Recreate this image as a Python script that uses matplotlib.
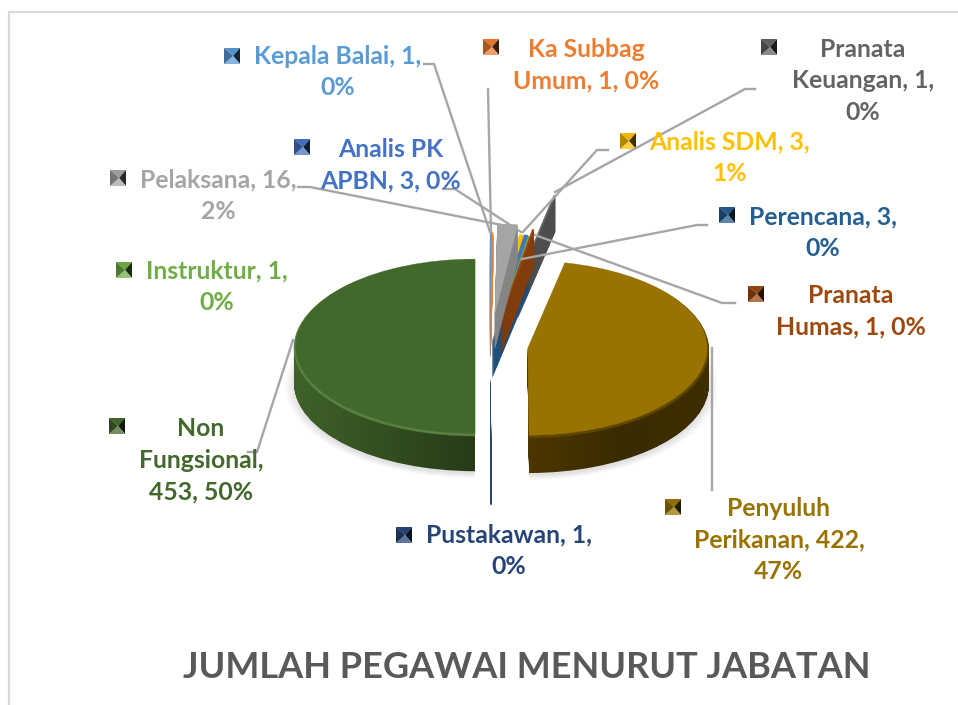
import numpy as np
from matplotlib import pyplot as plt
from matplotlib.colors import LinearSegmentedColormap, to_rgb
from matplotlib.path import Path
from matplotlib.patches import Polygon

# clockwise from 12 o'clock
names = ["Kepala Balai", "Ka Subbag Umum", "Pelaksana", "Analis SDM", "Analis PK APBN", "Instruktur",
         "Pranata Humas", "Perencana", "Pranata Keuangan", "Penyuluh Perikanan", "Pustakawan", "Non Fungsional"]
values = [1, 1, 16, 3, 3, 1, 1, 3, 1, 422, 1, 453]
colors = ["#5b9bd5", "#ed7d31", "#a5a5a5", "#ffc000", "#4472c4", "#70ad47",
          "#9e480e", "#255e91", "#636363", "#997300", "#264478", "#43682b"]
walls = ["#5b9bd5", "#ed7d31", "#858585", "#c99700", "#38609f", "#5b8f3a",
         "#843c0c", "#1f4e79", "#4d4d4d", "#3f2f00", "#264478", "#2d471c"]
bevels = list(colors)
bevels[9] = "#5f4700"
bevels[11] = "#58813f"
explode = [0.30, 0.30, 0.40, 0.29, 0.29, 0.28, 0.36, 0.07, 0.76, 0.21, 0.38, 0.083]
draw_rank = [8, 8, 7, 3, 4, 5, 6, 5.5, 1, 9, 10, 9]

label_texts = ["Kepala Balai, 1,\n0%", "Ka Subbag\nUmum, 1, 0%", "Pelaksana, 16,\n2%", "Analis SDM, 3,\n1%",
               "Analis PK\nAPBN, 3, 0%", "Instruktur, 1,\n0%", "Pranata\nHumas, 1, 0%", "Perencana, 3,\n0%",
               "Pranata\nKeuangan, 1,\n0%", "Penyuluh\nPerikanan, 422,\n47%", "Pustakawan, 1,\n0%",
               "Non\nFungsional,\n453, 50%"]
label_pos = [(338, 72), (586, 65), (218, 196), (730, 158), (391, 165), (217, 287), (851, 311), (823, 233),
             (863, 81), (779, 540), (509, 551), (201, 460)]
key_pos = [(232, 56), (491, 47), (118, 178), (628, 141), (302, 147), (124, 270), (756, 294), (727, 215),
           (769, 47), (673, 507), (404, 535), (117, 426)]
leaders = [[(424, 64), (434, 64), (490, 232)],
           [(488, 89), (491, 232)],
           [(298, 187), (310, 187), (507, 226)],
           [(608, 150), (597, 150), (523, 232)],
           [(443, 189), (455, 189), (521, 232)],
           [],
           [(735, 303), (722, 303), (535, 235)],
           [(707, 225), (697, 225), (522, 259)],
           [(755, 89), (745, 89), (555, 192)],
           [(712, 348), (712, 490)],
           [],
           [(293, 340), (257, 452), (248, 452)]]

W, H = 958, 705
cx, cy = 490, 348
rx, ry = 181, 88
depth = 0.40
n_layers = 36

fig = plt.figure(figsize=(W / 100, H / 100), dpi=100, facecolor="white")
ax = fig.add_axes([0, 0, 1, 1])

# soft shadow under the two big slices
for k in range(5):
    wedges, _ = ax.pie(values, explode=explode, colors=["#000000"] * len(values), startangle=90, counterclock=False,
                       radius=1.0 + 0.012 * k, center=(0, -depth - 0.03))
    for i, w in enumerate(wedges):
        w.set_alpha(0.025 if i in (9, 11) else 0)
        w.set_linewidth(0)
        w.set_zorder(0.1)

# side walls, one pie per depth step
wall_paths = {9: [], 11: []}
for k in range(n_layers, 0, -1):
    wedges, _ = ax.pie(values, explode=explode, colors=walls, startangle=90, counterclock=False,
                       center=(0, -depth * k / n_layers))
    for i, w in enumerate(wedges):
        w.set_edgecolor(walls[i])
        w.set_linewidth(0.3)
        w.set_zorder(draw_rank[i] + 0.1)
        if i in wall_paths:
            wall_paths[i].append(w.get_path())
            w.set_visible(False)

# gradient on the two big walls
for i, c0, c1 in [(9, "#513900", "#3a2c00"), (11, "#43662b", "#243817")]:
    stops = [c0, c1, "#3f2f00"] if i == 9 else [c0, c1]
    cmap = LinearSegmentedColormap.from_list("wall", stops)
    grad = np.linspace(0, 1, 256).reshape(1, -1)
    ext = (-1.2, 0.0, -2, 1) if i == 11 else (0.1, 1.3, -2, 1)
    im = ax.imshow(grad, cmap=cmap, extent=ext, aspect="auto", zorder=draw_rank[i] + 0.1)
    im.set_clip_path(Path.make_compound_path(*wall_paths[i]), ax.transData)

# bevel rim, then the top faces
wedges, _ = ax.pie(values, explode=explode, colors=bevels, startangle=90, counterclock=False)
for i, w in enumerate(wedges):
    w.set_edgecolor(bevels[i])
    w.set_linewidth(0.3)
    w.set_zorder(draw_rank[i] + 0.2)
wedges, _ = ax.pie(values, explode=explode, colors=colors, startangle=90, counterclock=False,
                   radius=0.99, center=(0, 0.02))
for i, w in enumerate(wedges):
    w.set_edgecolor(colors[i])
    w.set_linewidth(0.3)
    w.set_zorder(draw_rank[i] + 0.3)

ax.set_aspect("auto")
ax.set_xlim(-cx / rx, (W - cx) / rx)
ax.set_ylim(-(H - cy) / ry, cy / ry)
ax.axis("off")

# overlay in picture pixels for labels and leader lines
over = fig.add_axes([0, 0, 1, 1], zorder=5)
over.set_xlim(0, W)
over.set_ylim(H, 0)
over.axis("off")
over.patch.set_alpha(0)

over.plot([9, 9, W], [H, 12, 12], color="#d9d9d9", lw=1.6)

for pts in leaders:
    if pts:
        xs, ys = zip(*pts)
        over.plot(xs, ys, color="#a6a6a6", lw=1.7, solid_joinstyle="miter")


def shade(col, f):
    rgb = np.array(to_rgb(col))
    return tuple(rgb * f) if f <= 1 else tuple(rgb + (1 - rgb) * (f - 1))


def draw_key(x, y, col):
    s = 8
    tl, tr, br, bl = (x - s, y - s), (x + s, y - s), (x + s, y + s), (x - s, y + s)
    mid = (x + 1, y)
    over.add_patch(Polygon([tl, tr, mid], color=shade(col, 0.95), lw=0))
    over.add_patch(Polygon([tr, br, mid], color=shade(col, 0.25), lw=0))
    over.add_patch(Polygon([br, bl, mid], color=shade(col, 1.25), lw=0))
    over.add_patch(Polygon([bl, tl, mid], color=shade(col, 0.7), lw=0))


for i in range(len(names)):
    x, y = label_pos[i]
    over.text(x, y, label_texts[i], color=colors[i], fontsize=17.8, fontweight="bold", family="Lato",
              ha="center", va="center", multialignment="center", linespacing=1.47)
    draw_key(*key_pos[i], colors[i])

over.text(527, 668, "JUMLAH PEGAWAI MENURUT JABATAN", color="#595959", fontsize=26, fontweight="bold",
          family="Lato", ha="center", va="center")

fig.savefig("out.png", dpi=100)
